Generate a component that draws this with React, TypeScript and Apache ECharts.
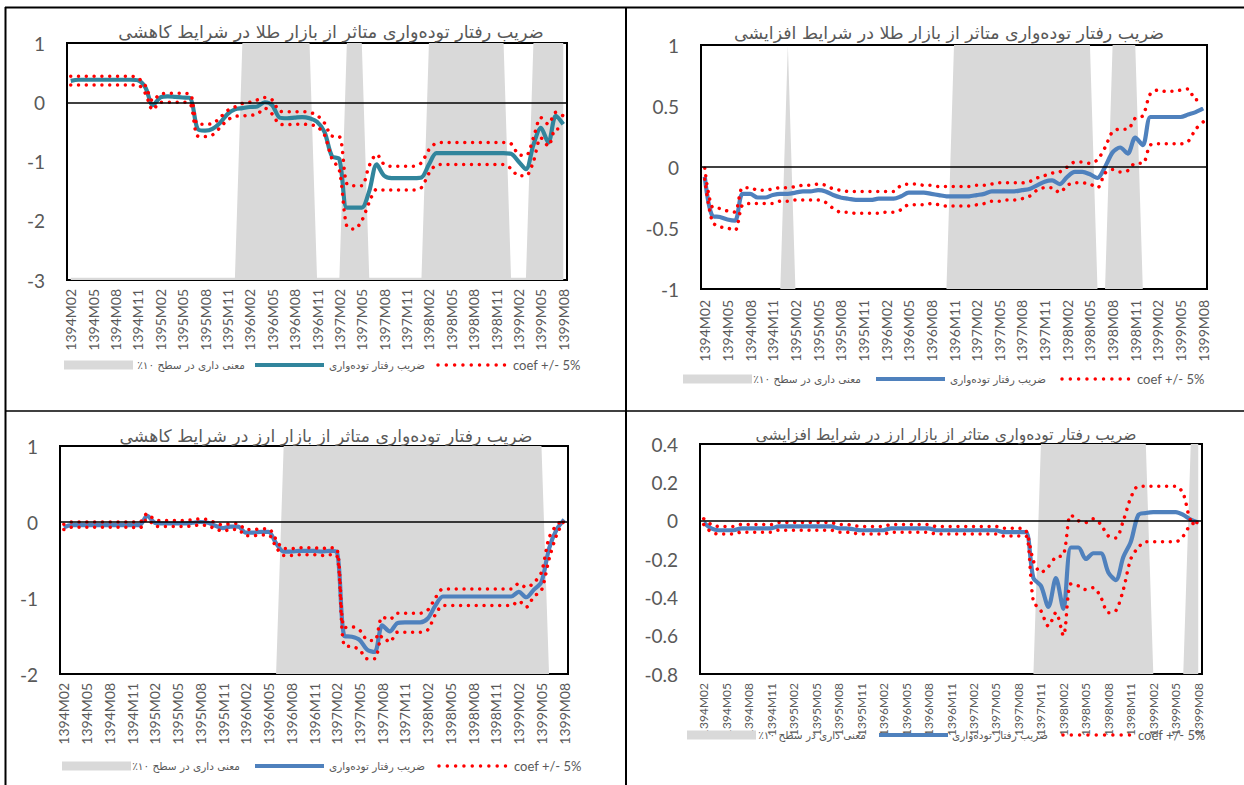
import React, { useEffect, useRef } from "react";
import * as echarts from "echarts";

const categories = [
  "1394M02","1394M03","1394M04","1394M05","1394M06","1394M07","1394M08","1394M09","1394M10","1394M11","1394M12",
  "1395M01","1395M02","1395M03","1395M04","1395M05","1395M06","1395M07","1395M08","1395M09","1395M10","1395M11","1395M12",
  "1396M01","1396M02","1396M03","1396M04","1396M05","1396M06","1396M07","1396M08","1396M09","1396M10","1396M11","1396M12",
  "1397M01","1397M02","1397M03","1397M04","1397M05","1397M06","1397M07","1397M08","1397M09","1397M10","1397M11","1397M12",
  "1398M01","1398M02","1398M03","1398M04","1398M05","1398M06","1398M07","1398M08","1398M09","1398M10","1398M11","1398M12",
  "1399M01","1399M02","1399M03","1399M04","1399M05","1399M06","1399M07","1399M08"
];

const titleTL = "ضریب رفتار توده\u200cواری متاثر از بازار طلا در شرایط کاهشی";
const titleTR = "ضریب رفتار توده\u200cواری متاثر از بازار طلا در شرایط افزایشی";
const titleBL = "ضریب رفتار توده\u200cواری متاثر از بازار ارز در شرایط کاهشی";
const titleBR = "ضریب رفتار توده\u200cواری متاثر از بازار ارز در شرایط افزایشی";
// RTL embedding so the percent sign sits at the visual left end, as in the reference
const legendSig = "\u202Bمعنی داری در سطح ۱۰\u200F٪\u202C";
const legendCoef = "\u202Bضریب رفتار توده\u200cواری\u202C";
const legendBand = "coef +/- 5%";

// y-axis ranges [min, max, step]
const yRangeTL = [-3, 1, 1];
const yRangeTR = [-1, 1, 0.5];
const yRangeBL = [-2, 1, 1];
const yRangeBR = [-0.8, 0.4, 0.2];

// ---- Gold, decreasing (top-left)
const coefTL = [
  0.36,0.38,0.38,0.38,0.38,0.38,0.38,0.38,0.38,0.37,
  0.25,-0.05,0.08,0.1,0.09,0.08,0.07,-0.45,-0.48,-0.45,
  -0.35,-0.2,-0.12,-0.1,-0.08,-0.07,0,-0.05,-0.26,-0.27,
  -0.26,-0.25,-0.27,-0.33,-0.5,-0.91,-0.96,-1.78,-1.78,-1.78,
  -1.5,-1.05,-1.24,-1.28,-1.28,-1.28,-1.28,-1.27,-1.05,-0.86,
  -0.86,-0.86,-0.86,-0.86,-0.86,-0.86,-0.86,-0.86,-0.86,-0.87,
  -1.0,-1.13,-0.72,-0.43,-0.68,-0.23,-0.37
];
const upperTL = [
  0.44,0.44,0.44,0.44,0.44,0.44,0.44,0.44,0.44,0.41,
  0.28,0.02,0.14,0.15,0.15,0.15,0.14,-0.37,-0.37,-0.36,
  -0.26,-0.14,-0.08,-0.02,0,0.04,0.08,0.04,-0.15,-0.16,
  -0.16,-0.16,-0.17,-0.22,-0.35,-0.57,-0.58,-1.38,-1.41,-1.41,
  -1.07,-0.88,-1.05,-1.08,-1.08,-1.08,-1.08,-1.02,-0.8,-0.69,
  -0.68,-0.68,-0.68,-0.68,-0.68,-0.68,-0.68,-0.68,-0.68,-0.7,
  -0.88,-0.9,-0.6,-0.26,-0.37,-0.17,-0.23
];
const lowerTL = [
  0.29,0.29,0.29,0.29,0.29,0.29,0.29,0.29,0.29,0.29,
  0.15,-0.13,0,0,0,0,-0.02,-0.57,-0.58,-0.55,
  -0.43,-0.3,-0.24,-0.23,-0.22,-0.2,-0.1,-0.2,-0.37,-0.38,
  -0.37,-0.37,-0.38,-0.41,-0.55,-0.95,-1.15,-2.1,-2.14,-2.0,
  -1.69,-1.47,-1.48,-1.48,-1.48,-1.48,-1.48,-1.44,-1.2,-1.06,
  -1.05,-1.05,-1.05,-1.05,-1.05,-1.05,-1.05,-1.05,-1.05,-1.12,
  -1.24,-1.24,-1.0,-0.6,-0.74,-0.45,-0.45
];
const sigTL = [
  0,0,0,0,0,0,0,0,0,0,
  0,0,0,0,0,0,0,0,0,0,
  0,0,0,1,1,1,1,1,1,1,
  1,1,1,0,0,0,0,1,1,1,
  0,0,0,0,0,0,0,0,1,1,
  1,1,1,1,1,1,1,1,1,0,
  0,0,1,1,1,1,1
];

// ---- Gold, increasing (top-right)
const coefTR = [
  -0.08,-0.4,-0.41,-0.43,-0.44,-0.22,-0.22,-0.25,-0.25,-0.23,
  -0.22,-0.22,-0.21,-0.2,-0.2,-0.19,-0.2,-0.23,-0.25,-0.26,
  -0.27,-0.27,-0.27,-0.26,-0.26,-0.26,-0.24,-0.21,-0.21,-0.21,
  -0.22,-0.23,-0.24,-0.24,-0.24,-0.24,-0.23,-0.22,-0.2,-0.2,
  -0.2,-0.2,-0.19,-0.18,-0.15,-0.12,-0.11,-0.14,-0.08,-0.04,
  -0.04,-0.06,-0.09,0,0.12,0.16,0.11,0.24,0.18,0.41,
  0.41,0.41,0.41,0.41,0.43,0.45,0.48
];
const upperTR = [
  -0.01,-0.33,-0.34,-0.36,-0.37,-0.17,-0.17,-0.19,-0.19,-0.18,
  -0.17,-0.17,-0.16,-0.15,-0.15,-0.14,-0.15,-0.18,-0.19,-0.2,
  -0.2,-0.2,-0.2,-0.2,-0.2,-0.2,-0.15,-0.14,-0.14,-0.15,
  -0.15,-0.16,-0.16,-0.16,-0.16,-0.16,-0.15,-0.15,-0.14,-0.13,
  -0.13,-0.13,-0.13,-0.12,-0.09,-0.07,-0.05,-0.04,0,0.04,
  0.04,0.03,0.06,0.16,0.29,0.31,0.31,0.4,0.42,0.6,
  0.63,0.62,0.62,0.63,0.64,0.55,0.57
];
const lowerTR = [
  -0.1,-0.45,-0.49,-0.5,-0.52,-0.31,-0.3,-0.3,-0.3,-0.3,
  -0.28,-0.28,-0.27,-0.27,-0.27,-0.27,-0.29,-0.34,-0.37,-0.37,
  -0.38,-0.38,-0.38,-0.38,-0.37,-0.37,-0.35,-0.31,-0.31,-0.31,
  -0.3,-0.31,-0.32,-0.32,-0.32,-0.32,-0.31,-0.3,-0.28,-0.28,
  -0.27,-0.27,-0.26,-0.24,-0.19,-0.17,-0.17,-0.21,-0.15,-0.13,
  -0.13,-0.14,-0.17,-0.05,-0.02,-0.04,-0.03,0.03,0.03,0.18,
  0.19,0.19,0.19,0.19,0.21,0.31,0.37
];
const sigTR = [
  0,0,0,0,0,0,0,0,0,0,
  0,1,0,0,0,0,0,0,0,0,
  0,0,0,0,0,0,0,0,0,0,
  0,0,0,1,1,1,1,1,1,1,
  1,1,1,1,1,1,1,1,1,1,
  1,1,0,0,1,1,1,1,0,0,
  0,0,0,0,0,0,0
];

// ---- FX, decreasing (bottom-left)
const coefBL = [
  -0.07,-0.04,-0.04,-0.04,-0.04,-0.04,-0.04,-0.04,-0.04,-0.04,
  -0.04,0.08,-0.01,-0.02,-0.02,-0.02,-0.02,-0.01,0,-0.01,
  -0.05,-0.08,-0.06,-0.06,-0.14,-0.14,-0.13,-0.13,-0.28,-0.39,
  -0.39,-0.38,-0.38,-0.38,-0.39,-0.38,-0.39,-1.5,-1.51,-1.55,
  -1.68,-1.71,-1.36,-1.44,-1.33,-1.32,-1.32,-1.32,-1.27,-1.1,
  -0.98,-0.98,-0.98,-0.98,-0.98,-0.98,-0.98,-0.98,-0.98,-0.98,
  -0.92,-0.99,-0.89,-0.79,-0.35,-0.1,0.03
];
const upperBL = [
  -0.03,0,0,0,0,0,0,0,0,0,
  0,0.11,0.03,0.02,0.02,0.02,0.02,0.03,0.04,0.03,
  -0.01,-0.04,-0.02,-0.02,-0.1,-0.1,-0.09,-0.09,-0.23,-0.35,
  -0.35,-0.34,-0.34,-0.34,-0.35,-0.34,-0.35,-1.39,-1.38,-1.42,
  -1.55,-1.56,-1.25,-1.28,-1.2,-1.2,-1.2,-1.2,-1.16,-1.0,
  -0.88,-0.88,-0.88,-0.88,-0.88,-0.88,-0.88,-0.88,-0.88,-0.88,
  -0.81,-0.86,-0.8,-0.66,-0.21,-0.04,0.03
];
const lowerBL = [
  -0.1,-0.07,-0.07,-0.07,-0.07,-0.07,-0.07,-0.07,-0.07,-0.07,
  -0.08,0.04,-0.05,-0.06,-0.06,-0.06,-0.06,-0.05,-0.04,-0.05,
  -0.09,-0.12,-0.1,-0.1,-0.18,-0.18,-0.17,-0.17,-0.33,-0.44,
  -0.44,-0.43,-0.43,-0.43,-0.44,-0.43,-0.44,-1.63,-1.64,-1.68,
  -1.8,-1.8,-1.5,-1.58,-1.45,-1.45,-1.45,-1.45,-1.42,-1.22,
  -1.1,-1.1,-1.1,-1.1,-1.1,-1.1,-1.1,-1.1,-1.1,-1.1,
  -1.04,-1.12,-0.98,-0.9,-0.49,-0.17,0.02
];
const sigBL = [
  0,0,0,0,0,0,0,0,0,0,
  0,0,0,0,0,0,0,0,0,0,
  0,0,0,0,0,0,0,0,0,1,
  1,1,1,1,1,1,1,1,1,1,
  1,1,1,1,1,1,1,1,1,1,
  1,1,1,1,1,1,1,1,1,1,
  1,1,1,1,0,0,0
];

// ---- FX, increasing (bottom-right)
const coefBR = [
  -0.01,-0.04,-0.05,-0.05,-0.05,-0.04,-0.04,-0.04,-0.04,-0.04,
  -0.03,-0.03,-0.03,-0.03,-0.03,-0.03,-0.03,-0.03,-0.04,-0.04,
  -0.045,-0.05,-0.05,-0.05,-0.05,-0.04,-0.04,-0.04,-0.04,-0.04,
  -0.04,-0.05,-0.05,-0.05,-0.05,-0.05,-0.05,-0.05,-0.05,-0.05,
  -0.06,-0.06,-0.06,-0.06,-0.3,-0.34,-0.45,-0.3,-0.46,-0.14,
  -0.14,-0.2,-0.17,-0.17,-0.27,-0.31,-0.19,-0.11,0.03,0.04,
  0.045,0.045,0.045,0.045,0.03,0.005,-0.01
];
const upperBR = [
  0.01,-0.02,-0.03,-0.03,-0.03,-0.02,-0.02,-0.02,-0.02,-0.02,
  -0.01,-0.01,-0.01,-0.01,-0.01,-0.01,-0.01,-0.01,-0.02,-0.02,
  -0.025,-0.03,-0.03,-0.03,-0.03,-0.02,-0.02,-0.02,-0.02,-0.02,
  -0.02,-0.03,-0.03,-0.03,-0.03,-0.03,-0.03,-0.03,-0.03,-0.03,
  -0.04,-0.04,-0.04,-0.05,-0.21,-0.27,-0.24,-0.19,-0.18,0.03,
  0,-0.01,0.01,-0.02,-0.08,-0.09,0,0.12,0.18,0.18,
  0.18,0.18,0.18,0.18,0.14,0,-0.01
];
const lowerBR = [
  -0.02,-0.06,-0.07,-0.07,-0.07,-0.06,-0.06,-0.06,-0.06,-0.06,
  -0.05,-0.05,-0.05,-0.05,-0.05,-0.05,-0.05,-0.05,-0.06,-0.06,
  -0.065,-0.07,-0.07,-0.07,-0.07,-0.06,-0.06,-0.06,-0.06,-0.06,
  -0.06,-0.07,-0.07,-0.07,-0.07,-0.07,-0.07,-0.07,-0.07,-0.07,
  -0.08,-0.08,-0.08,-0.08,-0.42,-0.47,-0.55,-0.48,-0.6,-0.33,
  -0.34,-0.36,-0.35,-0.4,-0.48,-0.47,-0.36,-0.2,-0.14,-0.11,
  -0.11,-0.11,-0.11,-0.11,-0.08,-0.02,-0.01
];
const sigBR = [
  0,0,0,0,0,0,0,0,0,0,
  0,0,0,0,0,0,0,0,0,0,
  0,0,0,0,0,0,0,0,0,0,
  0,0,0,0,0,0,0,0,0,0,
  0,0,0,0,0,1,1,1,1,1,
  1,1,1,1,1,1,1,1,1,1,
  0,0,0,0,0,1,1
];

const GREY = "#D9D9D9";
const RED = "#FF0000";
const TEXT = "#595959";
const FA_FONT = "'DejaVu Sans', sans-serif";
const NUM_FONT = "Lato, 'Liberation Sans', sans-serif";

function buildOption() {
  const panels = [
    { left: 67, top: 43, width: 500, height: 237, yr: yRangeTL, sigMin: -0.01, color: "#31859C",
      coef: coefTL, up: upperTL, lo: lowerTL, sig: sigTL, xFont: 14, xMargin: 9,
      title: titleTL, tx: 331, ty: 32, tSize: 17.6,
      lg: { y: 365, rect: 64, t1: 191, line: 255, t2: 377, dots: 438, t3: 513 } },
    { left: 701, top: 45, width: 506, height: 244, yr: yRangeTR, sigMin: 0, color: "#4F81BD",
      coef: coefTR, up: upperTR, lo: lowerTR, sig: sigTR, xFont: 14, xMargin: 11,
      title: titleTR, tx: 949, ty: 33, tSize: 17.4,
      lg: { y: 379, rect: 683, t1: 807, line: 876, t2: 998, dots: 1062, t3: 1137 } },
    { left: 60, top: 446, width: 508, height: 228, yr: yRangeBL, sigMin: 0, color: "#4F81BD",
      coef: coefBL, up: upperBL, lo: lowerBL, sig: sigBL, xFont: 14, xMargin: 9,
      title: titleBL, tx: 326, ty: 436, tSize: 17.2,
      lg: { y: 766, rect: 62, t1: 186, line: 255, t2: 377, dots: 439, t3: 514 } },
    { left: 700, top: 444, width: 502, height: 230, yr: yRangeBR, sigMin: 0, color: "#4F81BD",
      coef: coefBR, up: upperBR, lo: lowerBR, sig: sigBR, xFont: 12, xMargin: 9,
      title: titleBR, tx: 946, ty: 435, tSize: 15.5,
      lg: { y: 735, rect: 687, t1: 812, line: 879, t2: 1000, dots: 1063, t3: 1138 } },
  ];

  const grid: any[] = [];
  const xAxis: any[] = [];
  const yAxis: any[] = [];
  const series: any[] = [];
  const graphic: any[] = [];

  panels.forEach((p, k) => {
    grid.push({ left: p.left, top: p.top, width: p.width, height: p.height, show: true,
      borderColor: "#000", borderWidth: 2, backgroundColor: "transparent" });
    xAxis.push({
      type: "category", gridIndex: k, data: categories, boundaryGap: true,
      axisLine: { show: false }, axisTick: { show: false }, splitLine: { show: false },
      axisLabel: { interval: 2, rotate: 90, fontSize: p.xFont, fontFamily: NUM_FONT, color: TEXT, margin: p.xMargin },
    });
    yAxis.push({
      type: "value", gridIndex: k, min: p.yr[0], max: p.yr[1], interval: p.yr[2],
      axisLine: { show: false }, axisTick: { show: false }, splitLine: { show: false },
      axisLabel: { fontSize: 19, fontFamily: NUM_FONT, color: TEXT, margin: 22 },
    });
    yAxis.push({ type: "value", gridIndex: k, min: p.sigMin, max: 1, show: false });
    const yi = 2 * k;
    const yh = 2 * k + 1;
    series.push({
      name: legendSig, type: "line", xAxisIndex: k, yAxisIndex: yh, data: p.sig, symbol: "none",
      lineStyle: { opacity: 0, width: 0 }, areaStyle: { color: GREY, opacity: 1, origin: "start" }, z: 1, silent: true,
    });
    series.push({
      type: "line", xAxisIndex: k, yAxisIndex: yi, data: [], symbol: "none", z: 2, silent: true,
      markLine: { silent: true, symbol: "none", label: { show: false },
        lineStyle: { color: "#000", width: 1.6, type: "solid" }, data: [{ yAxis: 0 }] },
    });
    series.push({
      name: legendCoef, type: "line", xAxisIndex: k, yAxisIndex: yi, data: p.coef, symbol: "none",
      smooth: 0.3, lineStyle: { color: p.color, width: 4.2 }, z: 3,
    });
    [p.up, p.lo].forEach((d) => {
      series.push({
        name: legendBand, type: "line", xAxisIndex: k, yAxisIndex: yi, data: d, symbol: "none",
        smooth: 0.3, lineStyle: { color: RED, width: 3.5, type: [0.01, 7.8], cap: "round" }, z: 4,
      });
    });

    // title
    graphic.push({ type: "text", x: p.tx, y: p.ty, z: 10,
      style: { text: p.title, fill: TEXT, fontSize: p.tSize, fontFamily: FA_FONT, textAlign: "center", textVerticalAlign: "middle" } });
    // legend
    const L = p.lg;
    graphic.push({ type: "rect", shape: { x: L.rect, y: L.y - 4.5, width: 69, height: 9 }, style: { fill: GREY }, z: 10 });
    graphic.push({ type: "text", x: L.t1, y: L.y, z: 10,
      style: { text: legendSig, fill: TEXT, fontSize: 10.5, fontFamily: FA_FONT, textAlign: "center", textVerticalAlign: "middle" } });
    graphic.push({ type: "line", shape: { x1: L.line, y1: L.y, x2: L.line + 69, y2: L.y }, z: 10,
      style: { stroke: p.color, lineWidth: 4 } });
    graphic.push({ type: "text", x: L.t2, y: L.y, z: 10,
      style: { text: legendCoef, fill: TEXT, fontSize: 10.5, fontFamily: FA_FONT, textAlign: "center", textVerticalAlign: "middle" } });
    graphic.push({ type: "line", shape: { x1: L.dots, y1: L.y, x2: L.dots + 67, y2: L.y }, z: 10,
      style: { stroke: RED, lineWidth: 3.5, lineDash: [0.01, 8.3], lineCap: "round" } });
    graphic.push({ type: "text", x: L.t3, y: L.y, z: 10,
      style: { text: legendBand, fill: TEXT, fontSize: 13, fontFamily: NUM_FONT, textAlign: "left", textVerticalAlign: "middle" } });
  });

  // table frame lines
  const frame = [
    [5, 7.5, 1244, 7.5, 2],
    [5.5, 7, 5.5, 785, 2],
    [626, 7, 626, 785, 2],
    [5, 411, 1244, 411, 1.5],
  ];
  frame.forEach(([x1, y1, x2, y2, w]) => {
    graphic.push({ type: "line", shape: { x1, y1, x2, y2 }, style: { stroke: "#000", lineWidth: w }, z: 10 });
  });

  return {
    animation: false,
    backgroundColor: "#fff",
    grid, xAxis, yAxis, series, graphic,
  };
}

export default function App() {
  const ref = useRef<HTMLDivElement>(null);
  useEffect(() => {
    if (!ref.current) return;
    const chart = echarts.init(ref.current, undefined, { renderer: "svg" });
    chart.setOption(buildOption() as any);
    return () => chart.dispose();
  }, []);
  return (
    <div ref={ref} style={{ position: "absolute", left: 0, top: 0, width: 1244, height: 785, background: "#fff" }} />
  );
}
